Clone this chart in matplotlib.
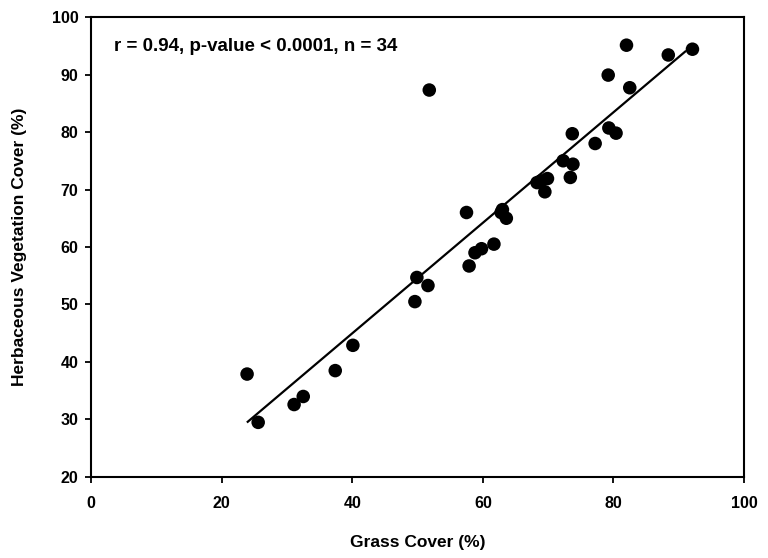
import matplotlib
matplotlib.use("Agg")
import matplotlib.pyplot as plt

plt.rcParams['font.family'] = ['Liberation Sans', 'DejaVu Sans']

grass = [23.9, 25.6, 31.1, 32.5, 37.4, 40.1, 49.6, 49.9, 51.6, 51.8,
         57.5, 57.9, 58.8, 59.8, 61.7, 63.0, 63.6, 62.8,
         68.3, 69.9, 69.5, 68.9, 72.3, 73.8, 73.4, 73.7, 77.2, 79.3, 80.4,
         79.2, 82.5, 82.0, 88.4, 92.1]
herb = [37.9, 29.5, 32.6, 34.0, 38.5, 42.9, 50.5, 54.7, 53.3, 87.3,
        66.0, 56.7, 59.0, 59.7, 60.5, 66.5, 65.0, 66.0,
        71.2, 71.9, 69.6, 71.5, 75.0, 74.4, 72.1, 79.7, 78.0, 80.7, 79.8,
        89.9, 87.7, 95.1, 93.4, 94.4]
fit_x = [24.0, 91.0]
fit_y = [29.6, 94.0]

xticks = [0, 20, 40, 60, 80, 100]
yticks = [20, 30, 40, 50, 60, 70, 80, 90, 100]

fig = plt.figure(figsize=(7.68, 5.58), dpi=100)
ax = fig.add_axes([0.1185, 0.1452, 0.8503, 0.8243])

ax.plot(fit_x, fit_y, color='black', linewidth=1.6, zorder=2)
ax.scatter(grass, herb, s=95, color='black', edgecolors='none', zorder=3)

ax.set_xlim(0, 100)
ax.set_ylim(20, 100)
ax.set_xticks(xticks)
ax.set_yticks(yticks)
ax.tick_params(direction='out', length=4, width=1.3, labelsize=11.5)
ax.tick_params(axis='x', pad=10)
ax.tick_params(axis='y', pad=5)
for lab in ax.get_xticklabels() + ax.get_yticklabels():
    lab.set_fontweight('bold')
for sp in ax.spines.values():
    sp.set_linewidth(1.5)

ax.set_xlabel('Grass Cover (%)', fontsize=12.5, fontweight='bold', labelpad=17)
ax.set_ylabel('Herbaceous Vegetation Cover (%)', fontsize=12.5, fontweight='bold', labelpad=18)

ax.text(0.035, 0.935, 'r = 0.94, p-value < 0.0001, n = 34', transform=ax.transAxes,
        fontsize=13.5, fontweight='bold', va='center', ha='left')

fig.savefig('out.png', dpi=100)
